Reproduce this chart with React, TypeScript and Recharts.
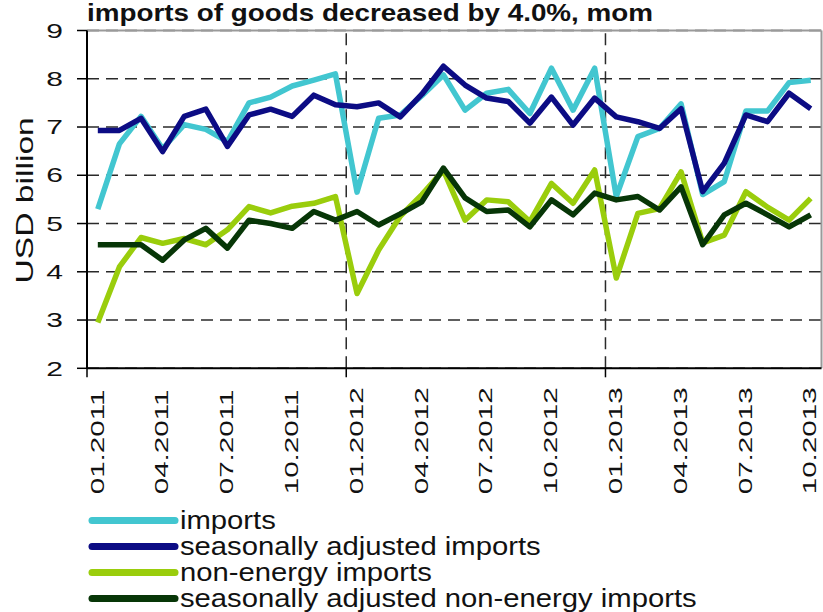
import React from 'react';
import { LineChart, Line, XAxis, YAxis, CartesianGrid, ReferenceLine, Legend, Customized, Label } from 'recharts';

const months = [
  '01.2011', '02.2011', '03.2011', '04.2011', '05.2011', '06.2011', '07.2011', '08.2011', '09.2011', '10.2011', '11.2011', '12.2011',
  '01.2012', '02.2012', '03.2012', '04.2012', '05.2012', '06.2012', '07.2012', '08.2012', '09.2012', '10.2012', '11.2012', '12.2012',
  '01.2013', '02.2013', '03.2013', '04.2013', '05.2013', '06.2013', '07.2013', '08.2013', '09.2013', '10.2013',
];

const imports = [
  5.3, 6.65, 7.22, 6.55, 7.05, 6.95, 6.7, 7.5, 7.62, 7.85, 7.97, 8.1,
  5.65, 7.18, 7.25, 7.65, 8.08, 7.35, 7.7, 7.78, 7.28, 8.22, 7.35, 8.22,
  5.56, 6.8, 6.97, 7.48, 5.6, 5.87, 7.33, 7.33, 7.92, 7.97,
];
const saImports = [
  6.93, 6.93, 7.18, 6.49, 7.22, 7.37, 6.6, 7.25, 7.37, 7.22, 7.66, 7.46,
  7.42, 7.5, 7.21, 7.68, 8.26, 7.87, 7.6, 7.53, 7.08, 7.62, 7.04, 7.6,
  7.21, 7.11, 6.97, 7.38, 5.66, 6.25, 7.25, 7.11, 7.7, 7.38,
];
const nonEnergy = [
  2.95, 4.1, 4.71, 4.59, 4.69, 4.56, 4.87, 5.35, 5.22, 5.36, 5.42, 5.56,
  3.55, 4.45, 5.15, 5.6, 6.1, 5.07, 5.49, 5.45, 5.04, 5.83, 5.42, 6.11,
  3.87, 5.21, 5.31, 6.07, 4.6, 4.76, 5.66, 5.34, 5.07, 5.52,
];
const saNonEnergy = [
  4.56, 4.56, 4.56, 4.24, 4.66, 4.9, 4.49, 5.07, 5.0, 4.9, 5.25, 5.07,
  5.25, 4.97, 5.2, 5.45, 6.15, 5.53, 5.25, 5.28, 4.93, 5.49, 5.18, 5.63,
  5.49, 5.56, 5.28, 5.76, 4.56, 5.18, 5.42, 5.18, 4.93, 5.18,
];

const seriesNames = ['imports', 'seasonally adjusted imports', 'non-energy imports', 'seasonally adjusted non-energy imports'];
const xTickLabels = ['01.2011', '04.2011', '07.2011', '10.2011', '01.2012', '04.2012', '07.2012', '10.2012', '01.2013', '04.2013', '07.2013', '10.2013'];
const yearStarts = ['01.2011', '01.2012', '01.2013'];
const yTicks = [2, 3, 4, 5, 6, 7, 8, 9];
const titleText = 'imports of goods decreased by 4.0%, mom';
const yAxisTitle = 'USD billion';

const COLORS = ['#42C6D0', '#0C0C84', '#9ACD0C', '#073607'];
const FONT = '"Liberation Sans", Arial, sans-serif';

const data = months.map((m, i) => ({
  pos: i + 0.5,
  month: m,
  imports: imports[i],
  saImports: saImports[i],
  nonEnergy: nonEnergy[i],
  saNonEnergy: saNonEnergy[i],
}));

const labelTicks = xTickLabels.map((l) => months.indexOf(l) + 0.5);
const boundaryTicks = yearStarts.map((l) => months.indexOf(l));
const xTicks = [...boundaryTicks, ...labelTicks].sort((a, b) => a - b);

const XTick = (props: any) => {
  const { x, y, payload } = props;
  const v = payload.value;
  if (Number.isInteger(v)) {
    return <line x1={x} y1={y} x2={x} y2={y + 9} stroke="#000" strokeWidth={1.5} />;
  }
  const label = months[Math.floor(v)];
  const bx = x + 5.8;
  const by = y + 126;
  return (
    <text
      transform={`translate(${bx},${by}) rotate(-90) scale(1.6,1)`}
      x={0}
      y={0}
      fontSize={18.5}
      fontFamily={FONT}
      fill="#111"
      textAnchor="start"
    >
      {label}
    </text>
  );
};

const YTick = (props: any) => {
  const { x, y, payload } = props;
  return (
    <text
      transform={`translate(${x - 12},${y + 7.2}) scale(1.5,1)`}
      x={0}
      y={0}
      fontSize={20}
      fontFamily={FONT}
      fill="#111"
      textAnchor="end"
    >
      {payload.value}
    </text>
  );
};

const renderYLabel = (props: any) => {
  const vb = props.viewBox || { x: 27, y: 30.5, width: 60, height: 337.8 };
  const cy = vb.y + vb.height / 2;
  const bx = 33;
  const by = cy + 84;
  return (
    <text
      transform={`translate(${bx},${by}) rotate(-90) scale(1.4,1)`}
      x={0}
      y={0}
      fontSize={24}
      fontFamily={FONT}
      fill="#111"
      textAnchor="start"
    >
      {yAxisTitle}
    </text>
  );
};

const Title = () => (
  <text
    transform="translate(87,21) scale(1.16,1)"
    x={0}
    y={0}
    fontSize={24}
    fontWeight="bold"
    fontFamily={FONT}
    fill="#111"
  >
    {titleText}
  </text>
);

const renderLegend = (props: any) => {
  const payload = [...(props.payload || [])].sort(
    (a: any, b: any) => seriesNames.indexOf(a.value) - seriesNames.indexOf(b.value)
  );
  return (
    <svg width={823} height={107} style={{ display: 'block', overflow: 'visible' }}>
      {payload.map((p: any, i: number) => {
        const base = 24 + i * 26;
        return (
          <g key={p.value}>
            <line x1={92} y1={base - 8.5} x2={175} y2={base - 8.5} stroke={p.color} strokeWidth={7} strokeLinecap="round" />
            <text
              transform={`translate(180,${base}) scale(1.17,1)`}
              x={0}
              y={0}
              fontSize={25}
              fontFamily={FONT}
              fill="#111"
            >
              {p.value}
            </text>
          </g>
        );
      })}
    </svg>
  );
};

export default function App() {
  return (
    <div style={{ position: 'absolute', left: 0, top: 0, width: 823, height: 612, background: '#fff', overflow: 'hidden' }}>
      <LineChart width={823} height={612} data={data} margin={{ top: 30.5, right: 1.5, bottom: 0, left: 27 }}>
        <CartesianGrid vertical={false} stroke="#2a2a2a" strokeDasharray="12 7" strokeWidth={1.5} />
        <ReferenceLine x={12} stroke="#2a2a2a" strokeDasharray="12 7" strokeWidth={1.5} />
        <ReferenceLine x={24} stroke="#2a2a2a" strokeDasharray="12 7" strokeWidth={1.5} />
        <ReferenceLine y={9} stroke="#9a9a9a" strokeWidth={2} />
        <ReferenceLine x={34} stroke="#9a9a9a" strokeWidth={2} />
        <XAxis
          dataKey="pos"
          type="number"
          domain={[0, 34]}
          ticks={xTicks}
          interval={0}
          tick={XTick}
          tickLine={false}
          tickSize={0}
          tickMargin={0}
          axisLine={{ stroke: '#000', strokeWidth: 2 }}
          height={243.7}
          allowDataOverflow
        />
        <YAxis
          type="number"
          domain={[2, 9]}
          ticks={yTicks}
          interval={0}
          width={60}
          tickSize={10}
          tick={YTick}
          tickLine={{ stroke: '#000', strokeWidth: 1.5 }}
          axisLine={{ stroke: '#000', strokeWidth: 2 }}
        >
          <Label content={renderYLabel} />
        </YAxis>
        <Line type="linear" dataKey="imports" name={seriesNames[0]} stroke={COLORS[0]} strokeWidth={5.5} strokeLinejoin="round" dot={false} activeDot={false} isAnimationActive={false} />
        <Line type="linear" dataKey="saImports" name={seriesNames[1]} stroke={COLORS[1]} strokeWidth={5.5} strokeLinejoin="round" dot={false} activeDot={false} isAnimationActive={false} />
        <Line type="linear" dataKey="nonEnergy" name={seriesNames[2]} stroke={COLORS[2]} strokeWidth={5.5} strokeLinejoin="round" dot={false} activeDot={false} isAnimationActive={false} />
        <Line type="linear" dataKey="saNonEnergy" name={seriesNames[3]} stroke={COLORS[3]} strokeWidth={5.5} strokeLinejoin="round" dot={false} activeDot={false} isAnimationActive={false} />
        <Legend
          verticalAlign="middle"
          align="center"
          layout="horizontal"
          wrapperStyle={{ top: 505, left: 0, width: 823, height: 107 }}
          content={renderLegend}
        />
        <Customized component={Title} />
      </LineChart>
    </div>
  );
}
